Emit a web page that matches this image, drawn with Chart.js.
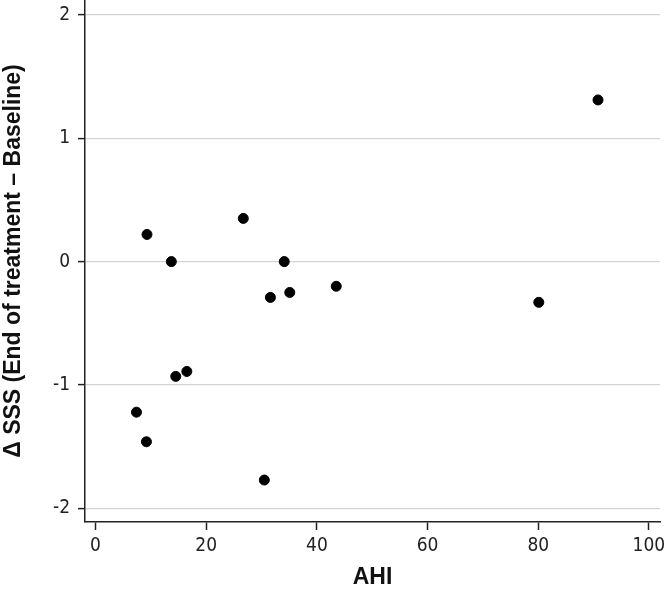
<!DOCTYPE html>
<html>
<head>
<meta charset="utf-8">
<script src="https://cdn.jsdelivr.net/npm/chart.js@4/dist/chart.umd.min.js"></script>
<style>
  body { margin: 0; background: #fff; }
  #wrap { width: 666px; height: 589px; }
</style>
</head>
<body>
<div id="wrap"><canvas id="scatter" width="666" height="589"></canvas></div>
<script>
// AHI vs change in SSS, one point per patient
const ahi = [9.3, 26.7, 13.7, 34.1, 31.6, 35.1, 43.5, 14.5, 16.5, 7.4, 9.2, 30.5, 90.8, 80.1];
const deltaSss = [0.22, 0.35, 0.0, 0.0, -0.29, -0.25, -0.2, -0.93, -0.89, -1.22, -1.46, -1.77, 1.31, -0.33];
const xTicks = [0, 20, 40, 60, 80, 100];
const yTicks = [-2, -1, 0, 1, 2];

const tickFont = { family: "'Liberation Sans Narrow', 'DejaVu Sans Condensed', sans-serif", size: 19 };
const titleFont = { family: "'Liberation Sans', Arial, sans-serif", size: 23, weight: 'bold' };

const points = ahi.map((x, i) => ({ x: x, y: deltaSss[i] }));

new Chart(document.getElementById('scatter').getContext('2d'), {
    type: 'scatter',
    data: {
        datasets: [{
            data: points,
            backgroundColor: '#000',
            borderColor: '#000',
            pointRadius: 5,
            pointHoverRadius: 5
        }]
    },
    options: {
        responsive: false,
        animation: false,
        layout: { autoPadding: false, padding: { top: 0, right: 6, left: 0, bottom: 0 } },
        plugins: {
            legend: { display: false },
            tooltip: { enabled: false }
        },
        scales: {
            x: {
                type: 'linear',
                min: -1.9,
                max: 102,
                afterBuildTicks: s => { s.ticks = xTicks.map(v => ({ value: v })); },
                afterFit: s => { s.height = 67; s.paddingLeft = 0; s.paddingRight = 0; },
                border: { color: '#222', width: 1.5 },
                grid: { drawOnChartArea: false, tickLength: 8, tickColor: '#222', tickWidth: 1.5 },
                ticks: { color: '#222', font: tickFont, padding: 5, maxRotation: 0 },
                title: { display: true, text: 'AHI', color: '#111', font: titleFont, padding: { top: 0, bottom: -2 } }
            },
            y: {
                type: 'linear',
                min: -2.11,
                max: 2.12,
                afterBuildTicks: s => { s.ticks = yTicks.map(v => ({ value: v })); },
                afterFit: s => { s.width = 85; s.paddingTop = 0; s.paddingBottom = 0; },
                border: { color: '#222', width: 1.5 },
                grid: { color: '#d4d4d4', lineWidth: 1.2, tickLength: 7, tickColor: '#222', tickWidth: 1.5 },
                ticks: { color: '#222', font: tickFont, padding: 8 },
                title: { display: true, text: 'Δ SSS (End of treatment – Baseline)', color: '#111', font: titleFont, padding: { top: 0, bottom: 0 } }
            }
        }
    }
});
</script>
</body>
</html>
